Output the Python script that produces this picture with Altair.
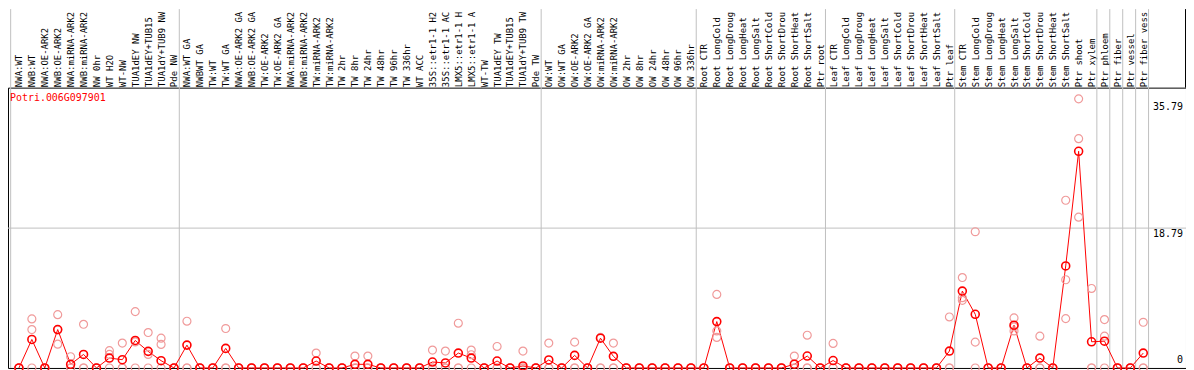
import json
import altair as alt
import pandas as pd

labels = [
    "NWA:WT", "NWB:WT", "NWA:OE-ARK2", "NWB:OE-ARK2", "NWA:miRNA-ARK2", "NWB:miRNA-ARK2",
    "NW 0hr", "WT H2O", "WT-NW", "TUA1dEY NW", "TUA1dEY+TUB15", "TUA1dY+TUB9 NW", "Pde NW",
    "NWA:WT GA", "NWBWT GA", "TW:WT", "TW:WT GA", "NWA:OE-ARK2 GA", "NWB:OE-ARK2 GA",
    "TW:OE-ARK2", "TW:OE-ARK2 GA", "NWA:miRNA-ARK2", "NWB:miRNA-ARK2", "TW:miRNA-ARK2",
    "TW:miRNA-ARK2", "TW 2hr", "TW 8hr", "TW 24hr", "TW 48hr", "TW 96hr", "TW 336hr",
    "WT ACC", "35S::etr1-1 H2", "35S::etr1-1 AC", "LMX5::etr1-1 H", "LMX5::etr1-1 A",
    "WT-TW", "TUA1dEY TW", "TUA1dEY+TUB15", "TUA1dY+TUB9 TW", "Pde TW",
    "OW:WT", "OW:WT GA", "OW:OE-ARK2", "OW:OE-ARK2 GA", "OW:miRNA-ARK2", "OW:miRNA-ARK2",
    "OW 2hr", "OW 8hr", "OW 24hr", "OW 48hr", "OW 96hr", "OW 336hr",
    "Root CTR", "Root LongCold", "Root LongDroug", "Root LongHeat", "Root LongSalt",
    "Root ShortCold", "Root ShortDrou", "Root ShortHeat", "Root ShortSalt", "Ptr root",
    "Leaf CTR", "Leaf LongCold", "Leaf LongDroug", "Leaf LongHeat", "Leaf LongSalt",
    "Leaf ShortCold", "Leaf ShortDrou", "Leaf ShortHeat", "Leaf ShortSalt", "Ptr leaf",
    "Stem CTR", "Stem LongCold", "Stem LongDroug", "Stem LongHeat", "Stem LongSalt",
    "Stem ShortCold", "Stem ShortDrou", "Stem ShortHeat", "Stem ShortSalt", "Ptr shoot",
    "Ptr xylem", "Ptr phloem", "Ptr fiber", "Ptr vessel", "Ptr fiber vess",
]

# index of the last sample of each group (separator drawn just after it)
group_ends = [12, 40, 52, 62, 72, 83, 84, 85, 86, 87]

means = [
    0, 3.83, 0, 5.16, 0.49, 1.82, 0, 1.33, 1.11, 3.69, 2.23, 0.98, 0,
    3.07, 0, 0, 2.63, 0, 0, 0, 0, 0, 0, 0.93, 0, 0, 0.49, 0.49, 0, 0, 0,
    0, 0.80, 0.67, 2.00, 1.33, 0, 0.93, 0, 0.27, 0,
    1.07, 0, 1.69, 0, 4.00, 1.56, 0, 0, 0, 0, 0, 0,
    0, 6.23, 0, 0, 0, 0, 0, 0.50, 1.60, 0,
    1.00, 0, 0, 0, 0, 0, 0, 0, 0, 2.27,
    10.33, 7.21, 0, 0, 5.74, 0, 1.33, 0, 13.71, 29.11,
    3.52, 3.60, 0, 0, 2.00,
]
rep1 = [
    0, 6.59, 0, 7.16, 1.51, 5.87, 0, 2.32, 3.34, 7.57, 4.76, 4.00, 0,
    6.28, 0, 0, 5.30, 0, 0, 0, 0, 0, 0, 2.00, 0, 0, 1.60, 1.60, 0, 0, 0,
    0, 2.40, 2.27, 6.01, 2.40, 0, 2.89, 0, 2.27, 0,
    3.34, 0, 3.47, 0, 4.10, 3.34, 0, 0, 0, 0, 0, 0,
    0, 9.88, 0, 0, 0, 0, 0, 1.60, 4.40, 0,
    3.30, 0, 0, 0, 0, 0, 0, 0, 0, 6.85,
    12.15, 18.30, 0, 0, 6.72, 0, 4.27, 0, 22.53, 36.15,
    10.68, 6.50, 0, 0, 6.14,
]
rep2 = [
    0, 5.16, 0, 3.20, 0, 0, 0, 1.82, 0, 3.50, 1.82, 3.16, 0,
    0, 0, 0, 0, 0, 0, 0, 0, 0, 0, 0, 0, 0, 0, 0, 0, 0, 0,
    0, 0, 0, 0, 1.78, 0, 0, 0, 0, 0,
    0, 0, 0, 0, 0, 0, 0, 0, 0, 0, 0, 0,
    0, 4.98, 0, 0, 0, 0, 0, 0, 0, 0,
    0, 0, 0, 0, 0, 0, 0, 0, 0, 0,
    9.44, 3.47, 0, 0, 4.98, 0, 0, 0, 11.85, 30.80,
    0, 4.27, 0, 0, 0,
]
rep3 = [
    0, 0, 0, 5.12, 0, 0, 0, 0, 0, 0, 0, 0, 0,
    0, 0, 0, 0, 0, 0, 0, 0, 0, 0, 0, 0, 0, 0, 0, 0, 0, 0,
    0, 0, 0, 0, 0, 0, 0, 0, 0, 0,
    0, 0, 0, 0, 0, 0, 0, 0, 0, 0, 0, 0,
    0, 4.10, 0, 0, 0, 0, 0, 0, 0, 0,
    0, 0, 0, 0, 0, 0, 0, 0, 0, 0,
    9.08, 0, 0, 0, 5.52, 0, 0, 0, 6.63, 20.26,
    0, 0, 0, 0, 0,
]

gene = "Potri.006G097901"
ytick_values = [0, 18.79, 35.79]
grid_values = [18.79]

W, H = 1185, 282
idx = list(range(len(labels)))
mean_df = pd.DataFrame({"i": idx, "label": labels, "mean": means})
rep_df = pd.DataFrame({"i": idx * 3, "v": rep1 + rep2 + rep3})
sep_df = pd.DataFrame({"pos": [-0.64] + [e + 0.41 for e in group_ends]})
grid_df = pd.DataFrame({"v": grid_values})
ylab_top = pd.DataFrame({"v": [v for v in ytick_values if v > 0],
                         "t": [f"{v:.2f}" for v in ytick_values if v > 0]})
ylab_zero = pd.DataFrame({"v": [0], "t": ["0"]})

lo = -11 / 13
xscale = alt.Scale(domain=[lo, lo + W / 13], nice=False, zero=False)
yscale = alt.Scale(domain=[0, 37.66], nice=False, zero=True)
FONT = "DejaVu Sans Mono"

label_expr = "[" + ",".join(json.dumps(l) for l in labels) + "][datum.value]"
xaxis = alt.Axis(
    orient="top", values=idx, labelExpr=label_expr, labelAngle=-90,
    labelAlign="left", labelBaseline="middle", labelPadding=1,
    ticks=False, domain=False, grid=False, title=None,
    labelFont=FONT, labelFontSize=9, labelColor="black",
    labelLimit=300, labelOverlap=False, labelFlush=False)

seps = alt.Chart(sep_df).mark_rule(color="#C0C0C0", strokeWidth=1).encode(
    x=alt.X("pos:Q", scale=xscale, axis=xaxis),
    y=alt.value(-79), y2=alt.value(H),
)
right_border = alt.Chart(sep_df.head(1)).mark_rule(color="black", strokeWidth=1).encode(
    x=alt.value(W - 0.5), y=alt.value(-79), y2=alt.value(0),
)
grid = alt.Chart(grid_df).mark_rule(color="#C0C0C0", strokeWidth=1).encode(
    y=alt.Y("v:Q", scale=yscale, axis=None),
    x=alt.value(0), x2=alt.value(W),
)
line = alt.Chart(mean_df).mark_line(color="#FF0000", strokeWidth=1).encode(
    x=alt.X("i:Q", scale=xscale, axis=xaxis),
    y=alt.Y("mean:Q", scale=yscale, axis=None),
)
reps = alt.Chart(rep_df).mark_point(
    shape="circle", filled=False, color="#F09A9A", size=64, strokeWidth=1.2, opacity=1
).encode(
    x=alt.X("i:Q", scale=xscale, axis=xaxis),
    y=alt.Y("v:Q", scale=yscale, axis=None),
)
pts = alt.Chart(mean_df).mark_point(
    shape="circle", filled=False, color="#FF0000", size=64, strokeWidth=1.6, opacity=1
).encode(
    x=alt.X("i:Q", scale=xscale, axis=xaxis),
    y=alt.Y("mean:Q", scale=yscale, axis=None),
)
title = alt.Chart(pd.DataFrame({"t": [gene]})).mark_text(
    align="left", baseline="middle", font=FONT, fontSize=10, color="#FF0000"
).encode(x=alt.value(2), y=alt.value(10), text="t:N")
ylab1 = alt.Chart(ylab_top).mark_text(
    align="right", baseline="top", font=FONT, fontSize=10, color="black", dy=1
).encode(x=alt.value(W - 3), y=alt.Y("v:Q", scale=yscale, axis=None), text="t:N")
ylab0 = alt.Chart(ylab_zero).mark_text(
    align="right", baseline="bottom", font=FONT, fontSize=10, color="black", dy=-3
).encode(x=alt.value(W - 3), y=alt.Y("v:Q", scale=yscale, axis=None), text="t:N")

chart = alt.layer(seps, right_border, grid, line, reps, pts, title, ylab1, ylab0).properties(
    width=W, height=H,
    autosize=alt.AutoSizeParams(type="none"),
    padding={"left": 0, "top": 79, "right": 0, "bottom": 10},
    background="white",
).configure_view(stroke="black", strokeWidth=1)

chart.save("out.html", embed_options={"renderer": "svg", "actions": False})
